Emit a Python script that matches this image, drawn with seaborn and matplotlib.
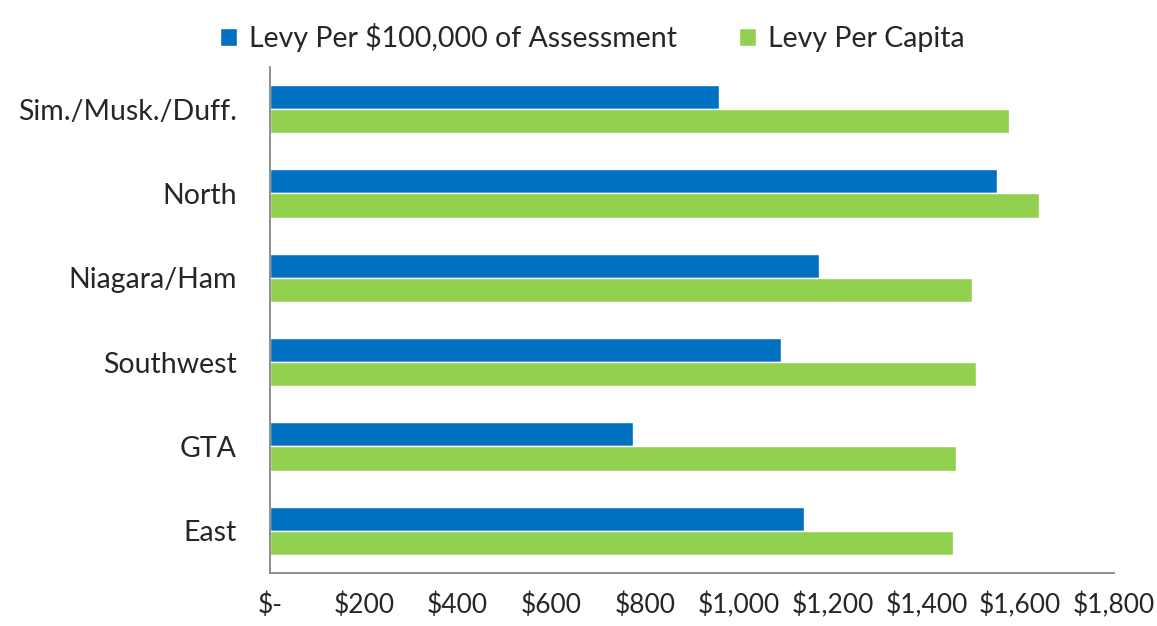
import matplotlib.pyplot as plt
import matplotlib.ticker as mticker
import pandas as pd
import seaborn as sns

# Chart data
regions = ["Sim./Musk./Duff.", "North", "Niagara/Ham", "Southwest", "GTA", "East"]
levy_per_100k = [957, 1550, 1171, 1089, 775, 1139]
levy_per_capita = [1575, 1639, 1497, 1506, 1464, 1457]
series = ["Levy Per $100,000 of Assessment", "Levy Per Capita"]
colors = ["#0070C0", "#92D050"]

df = pd.DataFrame({
    "region": regions * 2,
    "series": [series[0]] * len(regions) + [series[1]] * len(regions),
    "value": levy_per_100k + levy_per_capita,
})


def money(x, pos):
    if x == 0:
        return "$-"
    return f"${x:,.0f}"


sns.set_style("white")
plt.rcParams["font.family"] = ["Lato", "DejaVu Sans"]

fig = plt.figure(figsize=(11.57, 6.26), dpi=100)
ax = fig.add_axes([270 / 1157, 1 - 573 / 626, 844 / 1157, 506 / 626])

sns.barplot(data=df, y="region", x="value", hue="series", order=regions,
            hue_order=series, palette=colors, width=0.57, saturation=1,
            orient="h", ax=ax, legend=True)

ax.set_xlim(0, 1800)
ax.set_ylim(5.5, -0.5)
ax.xaxis.set_major_locator(mticker.MultipleLocator(200))
ax.xaxis.set_major_formatter(mticker.FuncFormatter(money))
ax.set_yticks(range(len(regions)))
ax.set_yticks([i - 0.5 for i in range(len(regions) + 1)], minor=True)
ax.set_xlabel(None)
ax.set_ylabel(None)

for side in ["top", "right"]:
    ax.spines[side].set_visible(False)
for side in ["left", "bottom"]:
    ax.spines[side].set_color("#868686")
    ax.spines[side].set_linewidth(1.3)

ax.tick_params(axis="y", which="major", length=0, labelsize=20.5, pad=24)
ax.tick_params(axis="y", which="minor", length=8, color="#868686", width=1.3, direction="out")
ax.tick_params(axis="x", length=8, color="#868686", width=1.3, direction="out", labelsize=19, pad=6)

handles, labels = ax.get_legend_handles_labels()
ax.legend(handles, labels, loc="upper center", bbox_to_anchor=(0.382, 1.0 + 70 / 506),
          ncol=2, frameon=False, fontsize=20.5, handlelength=0.6, handleheight=0.6,
          handletextpad=0.4, columnspacing=2.2)

plt.savefig("out.png", dpi=100)
